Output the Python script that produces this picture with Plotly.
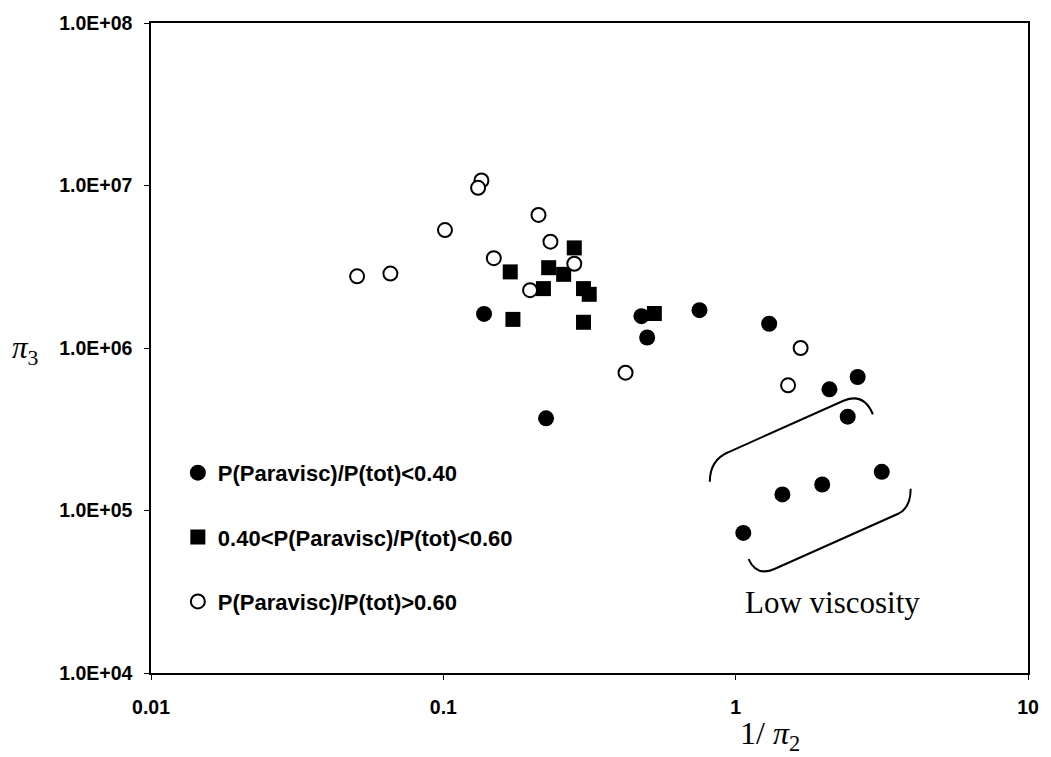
import plotly.graph_objects as go

# ---- data ----
low_x = [0.1378, 0.476, 0.498, 0.2246, 0.752, 1.302, 2.093, 2.614, 2.417, 3.16, 1.977, 1.445, 1.062]
low_y = [1.62e6, 1.57e6, 1.16e6, 3.69e5, 1.71e6, 1.41e6, 5.57e5, 6.63e5, 3.78e5, 1.73e5, 1.445e5, 1.256e5, 7.28e4]

mid_x = [0.2805, 0.1694, 0.2293, 0.258, 0.220, 0.3017, 0.3155, 0.173, 0.3017, 0.527]
mid_y = [4.13e6, 2.94e6, 3.12e6, 2.84e6, 2.32e6, 2.32e6, 2.14e6, 1.50e6, 1.44e6, 1.63e6]

high_x = [0.135, 0.1315, 0.2116, 0.1013, 0.2325, 0.1488, 0.2805, 0.0507, 0.0659, 0.198, 0.420, 1.668, 1.511]
high_y = [1.073e7, 9.68e6, 6.59e6, 5.32e6, 4.51e6, 3.57e6, 3.30e6, 2.76e6, 2.87e6, 2.27e6, 7.05e5, 1.0e6, 5.89e5]

series_names = [
    "P(Paravisc)/P(tot)&lt;0.40",
    "0.40&lt;P(Paravisc)/P(tot)&lt;0.60",
    "P(Paravisc)/P(tot)&gt;0.60",
]

x_tickvals = [0.01, 0.1, 1, 10]
x_ticktext = ["0.01", "0.1", "1", "10"]
y_tickvals = [1e4, 1e5, 1e6, 1e7, 1e8]
y_ticktext = ["1.0E+04", "1.0E+05", "1.0E+06", "1.0E+07", "1.0E+08"]

annotation_text = "Low viscosity"

# ---- layout geometry (pixels) ----
W, H = 1051, 757
L, R, T, B = 151, 1033, 17, 673


def PX(px):
    return (px - L) / (R - L)


def PY(py):
    return (B - py) / (B - T)


def path(points):
    out = []
    for cmd, pts in points:
        s = " ".join(f"{PX(x):.5f},{PY(y):.5f}" for x, y in pts)
        out.append(f"{cmd} {s}")
    return " ".join(out)


fig = go.Figure()

fig.add_trace(go.Scatter(
    x=low_x, y=low_y, mode="markers", name=series_names[0], legend="legend",
    marker=dict(symbol="circle", size=16, color="black", line=dict(width=0)),
))
fig.add_trace(go.Scatter(
    x=mid_x, y=mid_y, mode="markers", name=series_names[1], legend="legend2",
    marker=dict(symbol="square", size=15, color="black", line=dict(width=0)),
))
fig.add_trace(go.Scatter(
    x=high_x, y=high_y, mode="markers", name=series_names[2], legend="legend3",
    marker=dict(symbol="circle", size=14, color="white", line=dict(width=2, color="black")),
))

tick_font = dict(family="Liberation Sans, Arial", size=19.5, color="black", weight="bold")
legend_font = dict(family="Liberation Sans, Arial", size=22, color="black", weight="bold")

axis_common = dict(
    type="log",
    showline=True, linecolor="black", linewidth=1.5, mirror=True,
    showgrid=False, zeroline=False,
    ticks="outside", ticklen=5, tickwidth=1.2, tickcolor="black",
    tickfont=tick_font,
)

fig.update_xaxes(**axis_common, range=[-2, 1], tickvals=x_tickvals, ticktext=x_ticktext,
                 ticklabelstandoff=11)
fig.update_yaxes(**axis_common, range=[4, 8], tickvals=y_tickvals, ticktext=y_ticktext,
                 ticklabelstandoff=8)

leg_common = dict(xanchor="left", yanchor="middle", font=legend_font,
                  bgcolor="rgba(0,0,0,0)", borderwidth=0, itemwidth=30)

fig.update_layout(
    width=W, height=H,
    margin=dict(l=L, r=W - R, t=T, b=H - B, pad=0),
    paper_bgcolor="white", plot_bgcolor="white",
    showlegend=True,
    legend=dict(x=PX(178), y=PY(471), **leg_common),
    legend2=dict(x=PX(178), y=PY(536), **leg_common),
    legend3=dict(x=PX(178), y=PY(601), **leg_common),
    annotations=[
        dict(text=annotation_text, x=PX(836), y=PY(602), xref="paper", yref="paper",
             showarrow=False, xanchor="center", yanchor="middle",
             font=dict(family="Liberation Serif, Times New Roman", size=31, color="black")),
        dict(text="<i>π</i><sub>3</sub>", x=PX(24), y=PY(347), xref="paper", yref="paper",
             showarrow=False, xanchor="center", yanchor="middle",
             font=dict(family="Liberation Serif, Times New Roman", size=31, color="black")),
        dict(text="1/ <i>π</i><sub>2</sub>", x=PX(774), y=PY(736), xref="paper", yref="paper",
             showarrow=False, xanchor="center", yanchor="middle",
             font=dict(family="Liberation Serif, Times New Roman", size=32, color="black")),
    ],
    shapes=[
        dict(type="path", xref="paper", yref="paper",
             path=path([("M", [(713, 480)]), ("Q", [(713, 458), (732, 450)]),
                        ("L", [(848, 398)]), ("Q", [(868, 390), (877, 412)])]),
             line=dict(color="black", width=2)),
        dict(type="path", xref="paper", yref="paper",
             path=path([("M", [(752, 558)]), ("Q", [(760, 576), (778, 568)]),
                        ("L", [(903, 512)]), ("Q", [(915, 506), (915, 487)])]),
             line=dict(color="black", width=2)),
    ],
)

fig.write_html("out.html")
